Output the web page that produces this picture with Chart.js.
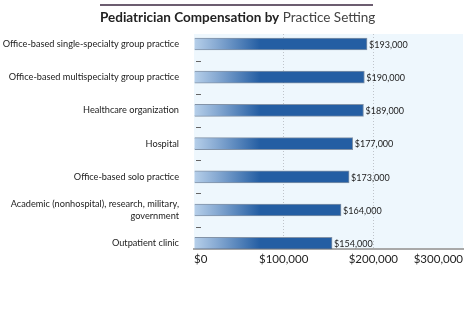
<!DOCTYPE html>
<html>
<head>
<meta charset="utf-8">
<script src="https://cdn.jsdelivr.net/npm/chart.js@4.4.1/dist/chart.umd.min.js"></script>
<style>
  body { margin: 0; background: #fff; font-family: Lato, "Open Sans", sans-serif; }
  .wrap { position: relative; width: 474px; height: 322px; }
  .title {
    position: absolute; left: 100px; top: 4px; width: 273px;
    border-top: 2px solid #6c5d70; padding-top: 3px;
    font-size: 13.5px; color: #222; text-align: center; white-space: nowrap;
  }
  .title b { font-weight: 700; }
  .title span { color: #444; }
  canvas { position: absolute; left: 0; top: 0; }
</style>
</head>
<body>
<div class="wrap">
  <canvas id="chart" width="474" height="322"></canvas>
  <div class="title"><b>Pediatrician Compensation by</b> <span>Practice Setting</span></div>
</div>
<script>
// practice settings, top to bottom
const categories = [
  'Office-based single-specialty group practice',
  'Office-based multispecialty group practice',
  'Healthcare organization',
  'Hospital',
  'Office-based solo practice',
  ['Academic (nonhospital), research, military,', 'government'],
  'Outpatient clinic'
];
const salaries = [193000, 190000, 189000, 177000, 173000, 164000, 154000];
const xTicks = [0, 100000, 200000, 300000];

const money = v => '$' + v.toLocaleString('en-US');

// light blue plot background
const plotBg = {
  id: 'plotBg',
  beforeDraw(chart) {
    const { ctx, chartArea: a } = chart;
    ctx.save();
    ctx.fillStyle = '#eef7fd';
    ctx.fillRect(a.left, a.top, a.right - a.left, a.bottom - a.top);
    ctx.restore();
  }
};

// small dashes between categories + value labels at the bar ends
const extras = {
  id: 'extras',
  afterDatasetsDraw(chart) {
    const { ctx, chartArea: a } = chart;
    const y = chart.scales.y;
    ctx.save();
    ctx.strokeStyle = '#666';
    ctx.lineWidth = 1;
    for (let i = 0; i < categories.length - 1; i++) {
      const py = Math.round(y.getPixelForValue(i + 0.5)) + 0.5;
      ctx.beginPath();
      ctx.moveTo(a.left + 2, py);
      ctx.lineTo(a.left + 7, py);
      ctx.stroke();
    }
    ctx.font = '9px Lato, sans-serif';
    ctx.fillStyle = '#222';
    ctx.textBaseline = 'middle';
    chart.getDatasetMeta(0).data.forEach((bar, i) => {
      ctx.fillText(money(salaries[i]), bar.x + 2, bar.y + 1);
    });
    ctx.restore();
  }
};

function barFill(context) {
  const chart = context.chart;
  const a = chart.chartArea;
  if (!a) return '#245ea3';
  const g = chart.ctx.createLinearGradient(a.left, 0, a.left + 66, 0);
  g.addColorStop(0, '#b7d0ea');
  g.addColorStop(0.35, '#86a9d2');
  g.addColorStop(1, '#245ea3');
  return g;
}

new Chart(document.getElementById('chart'), {
  type: 'bar',
  data: {
    datasets: [{
      data: salaries.map((v, i) => ({ x: v, y: i })),
      backgroundColor: barFill,
      borderColor: 'rgba(60, 80, 110, 0.6)',
      borderWidth: 1,
      borderSkipped: 'start',
      barThickness: 12
    }]
  },
  options: {
    responsive: false,
    animation: false,
    indexAxis: 'y',
    layout: { padding: { top: 34, right: 11, bottom: 53, left: 0 } },
    plugins: { legend: { display: false }, tooltip: { enabled: false } },
    scales: {
      x: {
        min: 0,
        max: 300000,
        afterBuildTicks: s => { s.ticks = xTicks.map(v => ({ value: v })); },
        ticks: {
          align: 'inner',
          padding: 3,
          color: '#222',
          font: { family: 'Lato', size: 11.5 },
          callback: v => money(v)
        },
        grid: {
          drawTicks: false,
          color: c => (c.tick && c.tick.value > 0 && c.tick.value < 300000) ? '#bfc4ca' : 'rgba(0,0,0,0)',
          lineWidth: 1
        },
        border: { display: true, color: '#a9a9a9', width: 2, dash: [1, 2] }
      },
      y: {
        type: 'linear',
        offset: false,
        reverse: true,
        min: -0.3,
        max: 6.18,
        afterBuildTicks: s => { s.ticks = categories.map((c, i) => ({ value: i })); },
        afterFit: s => { s.width = 194; },
        ticks: {
          padding: 7,
          color: '#222',
          font: { family: 'Lato', size: 9.2, lineHeight: 1.25 },
          callback: v => categories[v]
        },
        grid: { display: false },
        border: { display: false }
      }
    }
  },
  plugins: [plotBg, extras]
});
</script>
</body>
</html>
